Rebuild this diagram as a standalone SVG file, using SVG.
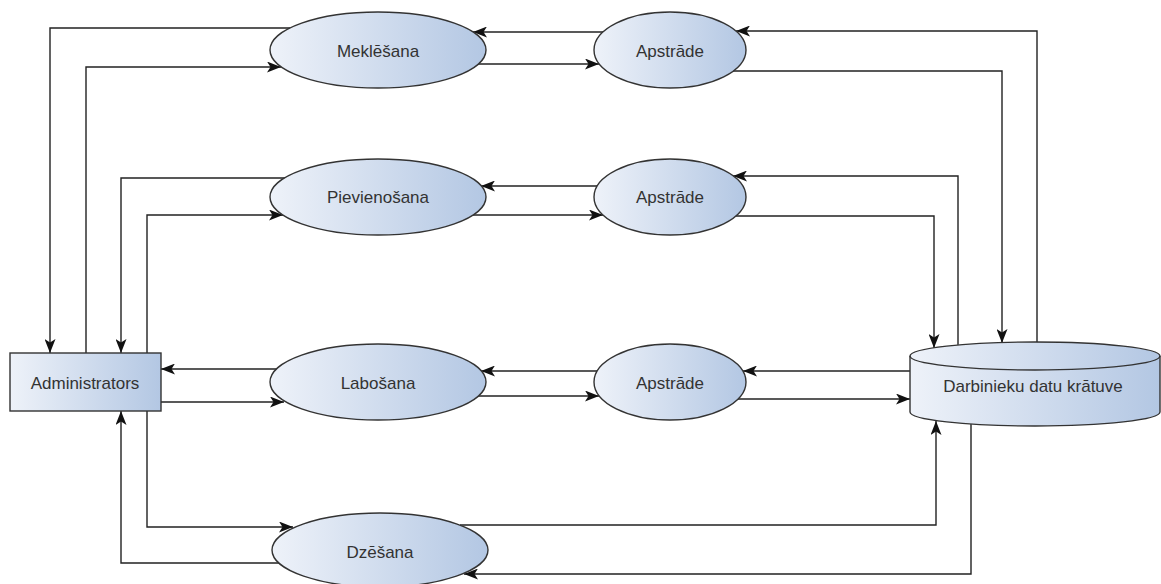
<svg xmlns="http://www.w3.org/2000/svg" width="1161" height="584" viewBox="0 0 1161 584">
<style>
.shape{stroke:#333;stroke-width:1.4;fill:url(#g)}
.lbl{font-family:"Liberation Sans",Arial,sans-serif;font-size:17px;fill:#333;text-anchor:middle;dominant-baseline:central}
.c{fill:none;stroke:#222;stroke-width:1.4;marker-end:url(#arr)}
</style>
<defs>
<linearGradient id="g" x1="0" y1="0" x2="1" y2="0">
<stop offset="0" stop-color="#eef2f9"/>
<stop offset="1" stop-color="#b3c7e3"/>
</linearGradient>
<marker id="arr" viewBox="0 0 14 11" refX="14" refY="5.5" markerWidth="14" markerHeight="11" markerUnits="userSpaceOnUse" orient="auto">
<path d="M0,0 L14,5.5 L0,11 L3.5,5.5 Z" fill="#111"/>
</marker>
</defs>
<rect width="1161" height="584" fill="#fff"/>
<g id="connectors">
<path class="c" d="M290,28 H50 V353"/>
<path class="c" d="M86,353 V67 H281"/>
<path class="c" d="M603,32 H473"/>
<path class="c" d="M478,64 H599"/>
<path class="c" d="M1037,342 V31 H736"/>
<path class="c" d="M733,71 H1002 V343"/>
<path class="c" d="M285,178 H121 V353"/>
<path class="c" d="M147,353 V215 H283"/>
<path class="c" d="M597,186 H481"/>
<path class="c" d="M473,215 H603"/>
<path class="c" d="M958,345 V176 H733"/>
<path class="c" d="M736,216 H934 V348"/>
<path class="c" d="M277,369 H161"/>
<path class="c" d="M161,402 H284"/>
<path class="c" d="M597,371 H481"/>
<path class="c" d="M478,396 H599"/>
<path class="c" d="M910,371 H743"/>
<path class="c" d="M738,399 H910"/>
<path class="c" d="M147,411 V527 H293"/>
<path class="c" d="M279,563 H121 V411"/>
<path class="c" d="M460,525 H936 V421"/>
<path class="c" d="M971,424 V574 H464"/>
</g>
<g id="meklesana">
<ellipse class="shape" cx="378" cy="50" rx="108" ry="38"/>
<text class="lbl" x="378" y="51">Meklēšana</text>
</g>
<g id="apstrade1">
<ellipse class="shape" cx="670" cy="50" rx="76" ry="38"/>
<text class="lbl" x="670" y="51">Apstrāde</text>
</g>
<g id="pievienosana">
<ellipse class="shape" cx="378" cy="197" rx="108" ry="38"/>
<text class="lbl" x="378" y="197">Pievienošana</text>
</g>
<g id="apstrade2">
<ellipse class="shape" cx="670" cy="197" rx="76" ry="38"/>
<text class="lbl" x="670" y="197">Apstrāde</text>
</g>
<g id="labosana">
<ellipse class="shape" cx="378" cy="382" rx="108" ry="38"/>
<text class="lbl" x="378" y="383">Labošana</text>
</g>
<g id="apstrade3">
<ellipse class="shape" cx="670" cy="382" rx="76" ry="38"/>
<text class="lbl" x="670" y="383">Apstrāde</text>
</g>
<g id="administrators">
<rect class="shape" x="10" y="353" width="151" height="58"/>
<text class="lbl" x="85" y="383">Administrators</text>
</g>
<g id="datu-kratuve">
<path class="shape" d="M910,356 A125,14 0 0,1 1160,356 V412 A125,14 0 0,1 910,412 Z"/>
<path fill="none" stroke="#333" stroke-width="1.4" d="M910,356 A125,14 0 0,0 1160,356"/>
<text class="lbl" x="1033" y="386">Darbinieku datu krātuve</text>
</g>
<g id="dzesana">
<ellipse class="shape" cx="380" cy="550" rx="108" ry="37"/>
<text class="lbl" x="380" y="552">Dzēšana</text>
</g>
</svg>
